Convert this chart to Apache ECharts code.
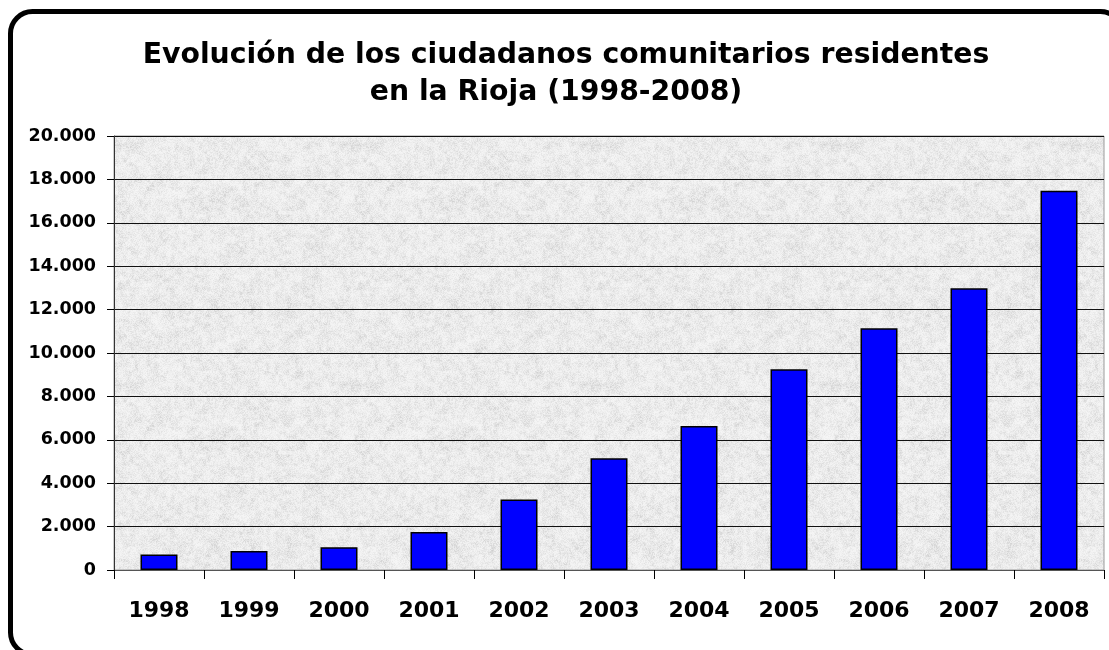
<!DOCTYPE html>
<html>
<head>
<meta charset="utf-8">
<script src="https://cdn.jsdelivr.net/npm/echarts@6/dist/echarts.min.js"></script>
<style>html,body{margin:0;padding:0;background:#fff;}#c{width:1109px;height:650px;}</style>
</head>
<body>
<div id="c"></div>
<script>
var titleLines = ['Evolución de los ciudadanos comunitarios residentes', 'en la Rioja (1998-2008)'];
var years = ['1998','1999','2000','2001','2002','2003','2004','2005','2006','2007','2008'];
var residents = [720, 880, 1050, 1750, 3250, 5150, 6640, 9250, 11140, 12980, 17480];
var yTickLabels = ['0','2.000','4.000','6.000','8.000','10.000','12.000','14.000','16.000','18.000','20.000'];

// deterministic granite-like texture for the plot background
function hash(x, y) {
  var n = Math.imul(x, 374761393) + Math.imul(y, 668265263);
  n = Math.imul(n ^ (n >>> 13), 1274126177);
  n = n ^ (n >>> 16);
  return (n >>> 0) / 4294967296;
}
function makeTexture() {
  var S = 240, c = document.createElement('canvas');
  c.width = S; c.height = S;
  var ctx = c.getContext('2d'), img = ctx.createImageData(S, S);
  function coarse(x, y, cell, seed) {
    var gx = Math.floor(x / cell), gy = Math.floor(y / cell);
    var fx = (x % cell) / cell, fy = (y % cell) / cell;
    var m = S / cell;
    function g(i, j) { return hash(((i % m) + m) % m + seed, ((j % m) + m) % m + seed * 3); }
    var a = g(gx, gy), b = g(gx + 1, gy), cc = g(gx, gy + 1), d = g(gx + 1, gy + 1);
    var sx = fx * fx * (3 - 2 * fx), sy = fy * fy * (3 - 2 * fy);
    return (a * (1 - sx) + b * sx) * (1 - sy) + (cc * (1 - sx) + d * sx) * sy;
  }
  for (var y = 0; y < S; y++) {
    for (var x = 0; x < S; x++) {
      var v = 0.45 * hash(x, y) + 0.35 * coarse(x, y, 4, 17) + 0.2 * coarse(x, y, 12, 91);
      var g = Math.round(246 - 42 * v * v);
      var i = (y * S + x) * 4;
      img.data[i] = g; img.data[i + 1] = g; img.data[i + 2] = g; img.data[i + 3] = 255;
    }
  }
  ctx.putImageData(img, 0, 0);
  return c;
}

var FONT = 'DejaVu Sans';
var chart = echarts.init(document.getElementById('c'), null, {renderer:'canvas'});
chart.setOption({
  animation: false,
  backgroundColor: '#ffffff',
  title: [{
    text: titleLines[0], left: 566, top: 42, textAlign: 'center', padding: 0,
    textStyle: {fontFamily: FONT, fontSize: 28.3, fontWeight: 'bold', color: '#000', lineHeight: 28}
  }, {
    text: titleLines[1], left: 556, top: 79, textAlign: 'center', padding: 0,
    textStyle: {fontFamily: FONT, fontSize: 28.3, fontWeight: 'bold', color: '#000', lineHeight: 28}
  }],
  grid: {
    left: 114, right: 5, top: 136, bottom: 80,
    show: true, backgroundColor: {image: makeTexture(), repeat: 'repeat'}, borderColor: '#9a9a9a', borderWidth: 1,
    containLabel: false
  },
  xAxis: {
    type: 'category',
    data: years,
    boundaryGap: true,
    axisLine: {show: true, lineStyle: {color: '#555', width: 1}},
    axisTick: {show: true, alignWithLabel: false, length: 9, inside: false, lineStyle: {color: '#000', width: 1}},
    axisLabel: {margin: 30, fontFamily: FONT, fontSize: 22, fontWeight: 'bold', color: '#000', interval: 0}
  },
  yAxis: {
    type: 'value',
    min: 0, max: 20000, interval: 2000,
    axisLine: {show: true, lineStyle: {color: '#333', width: 1}},
    axisTick: {show: true, length: 7, lineStyle: {color: '#000', width: 1}},
    axisLabel: {margin: 18, fontFamily: FONT, fontSize: 17.5, fontWeight: 'bold', color: '#000',
      formatter: function(v){ return yTickLabels[Math.round(v/2000)]; }},
    splitLine: {show: true, lineStyle: {color: '#111', width: 1}}
  },
  series: [{
    type: 'bar',
    data: residents,
    barWidth: 37,
    itemStyle: {color: '#0000ff', borderColor: '#000', borderWidth: 1.5}
  }],
  graphic: [{
    type: 'rect',
    shape: {x: 10.5, y: 11.5, width: 1112, height: 643, r: 22},
    style: {fill: 'none', stroke: '#000', lineWidth: 5},
    silent: true,
    z: 100
  }]
});
</script>
</body>
</html>
